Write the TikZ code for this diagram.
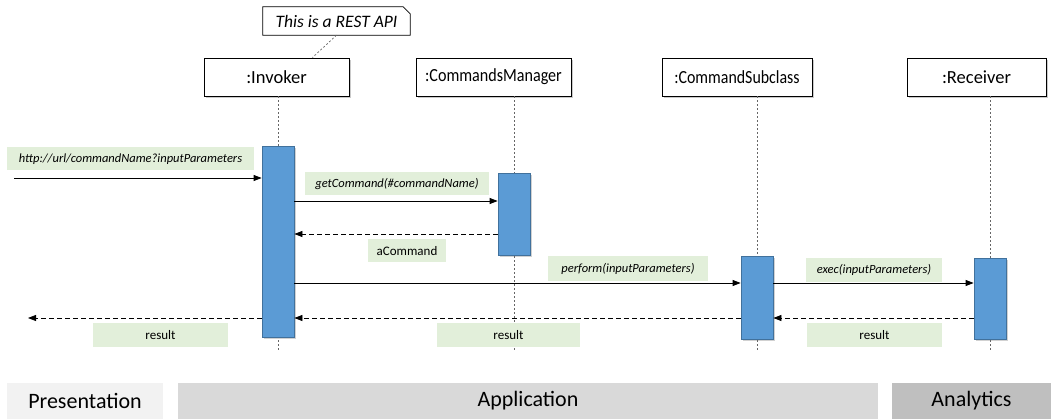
\documentclass[tikz,border=0pt]{standalone}
\usepackage{fontspec}
\setmainfont{Carlito}
\usetikzlibrary{arrows.meta,shadows,calc}
\definecolor{actfill}{HTML}{5B9BD5}
\definecolor{actline}{HTML}{41719C}
\definecolor{lblfill}{HTML}{E2EFDA}
\definecolor{bandA}{HTML}{F2F2F2}
\definecolor{bandB}{HTML}{D9D9D9}
\definecolor{bandC}{HTML}{BFBFBF}
\tikzset{
  header/.style={draw=black, line width=0.9pt, fill=white, minimum height=38pt,
    inner sep=0pt, font=\fontsize{18.5}{22}\selectfont,
    drop shadow={shadow xshift=2pt, shadow yshift=-2pt, opacity=0.35, fill=black!60}},
  actbox/.style={draw=actline, line width=0.8pt, fill=actfill, minimum width=32pt, inner sep=0pt,
    drop shadow={shadow xshift=2pt, shadow yshift=-2pt, opacity=0.3, fill=black!60}},
  lifeline/.style={draw=black!60, line width=0.7pt, dash pattern=on 2pt off 2pt},
  lbl/.style={fill=lblfill, inner sep=0pt, minimum height=23pt, font=\fontsize{13}{15}\selectfont},
  ilbl/.style={lbl, font=\fontsize{12.5}{15}\selectfont\itshape},
  msg/.style={draw=black, line width=0.8pt, -{Triangle[length=8pt,width=6pt]}},
  ret/.style={draw=black, line width=0.8pt, dash pattern=on 5pt off 3pt, -{Triangle[length=8pt,width=6pt]}},
  band/.style={inner sep=0pt, minimum height=36pt, font=\fontsize{22}{26}\selectfont}
}
\begin{document}
\begin{tikzpicture}[x=1pt,y=-1pt]
\useasboundingbox (0,0) rectangle (1051,419);

% participants
\node[header, minimum width=145pt] (inv) at (276.5,77) {:Invoker};
\node[header, minimum width=155pt] (cm)  at (493.5,77) {\scalebox{0.87}[1]{:CommandsManager}};
\node[header, minimum width=150pt] (cs)  at (737,77)   {\scalebox{0.86}[1]{:CommandSubclass}};
\node[header, minimum width=139pt] (rcv) at (976.5,77) {:Receiver};

% note with folded corner
\node[inner sep=0pt, minimum width=147pt, minimum height=28pt]
  (note) at (336.5,21) {};
\draw[line width=0.8pt, fill=white]
  (note.north west) -- ($(note.north east)+(-7,0)$) -- ($(note.north east)+(0,7)$)
  -- (note.south east) -- (note.south west) -- cycle;
\node[inner sep=0pt, font=\fontsize{17.5}{20}\selectfont\itshape] (notetext) at (note) {This is a REST API};
\coordinate (noteanchor) at ($(inv.north)+(36,0)$);
\draw[lifeline] (note.south) -- (noteanchor);

% lifelines
\coordinate (invend) at (278,352);
\coordinate (cmend)  at (514,352);
\coordinate (csend)  at (757,352);
\coordinate (rcvend) at (990,352);
\draw[lifeline] (inv.south -| invend) -- (invend);
\draw[lifeline] (cm.south -| cmend) -- (cmend);
\draw[lifeline] (cs.south -| csend) -- (csend);
\draw[lifeline] (rcv.south -| rcvend) -- (rcvend);

% activation bars
\node[actbox, minimum height=191pt] (aI)  at (278,241.5) {};
\node[actbox, minimum height=82pt]  (aCM) at (514,214)   {};
\node[actbox, minimum height=83pt]  (aCS) at (757,297.5) {};
\node[actbox, minimum height=81pt]  (aR)  at (990,298.5) {};

% external call
\coordinate (client) at (14,178);
\coordinate (caller) at (28,318);
\node[ilbl, minimum width=247pt] (lHttp) at (130.5,159) {http://url/commandName?inputParameters};
\draw[msg] (client) -- (aI.west |- client);

% getCommand
\node[ilbl, minimum width=184pt] (lGet) at (397,184) {getCommand(\#commandName)};
\draw[msg] (aI.east |- 0,201) -- (aCM.west |- 0,201);
\node[lbl, minimum width=78pt] (lCmd) at (407,251) {aCommand};
\draw[ret] (aCM.west |- 0,234) -- (aI.east |- 0,234);

% perform
\node[ilbl, minimum width=160pt, minimum height=25pt] (lPerf) at (628,268.5) {perform(inputParameters)};
\draw[msg] (aI.east |- 0,283) -- (aCS.west |- 0,283);

% exec
\node[ilbl, minimum width=136pt, minimum height=24pt] (lExec) at (874,270) {exec(inputParameters)};
\draw[msg] (aCS.east |- 0,283) -- (aR.west |- 0,283);

% results
\node[lbl, minimum width=135pt, minimum height=24pt] (lRes3) at (874.5,335) {result};
\draw[ret] (aR.west |- 0,318) -- (aCS.east |- 0,318);
\node[lbl, minimum width=143pt, minimum height=24pt] (lRes2) at (508.5,335) {result};
\draw[ret] (aCS.west |- 0,318) -- (aI.east |- 0,318);
\node[lbl, minimum width=135pt, minimum height=24pt] (lRes1) at (160.5,335) {result};
\draw[ret] (aI.west |- caller) -- (caller);

% layers
\node[band, fill=bandA, minimum width=156pt] (pres) at (85,401) {Presentation};
\node[band, fill=bandB, minimum width=700pt] (app)  at (528,401) {Application};
\node[band, fill=bandC, minimum width=159pt] (ana)  at (971.5,401) {Analytics};
\end{tikzpicture}
\end{document}
